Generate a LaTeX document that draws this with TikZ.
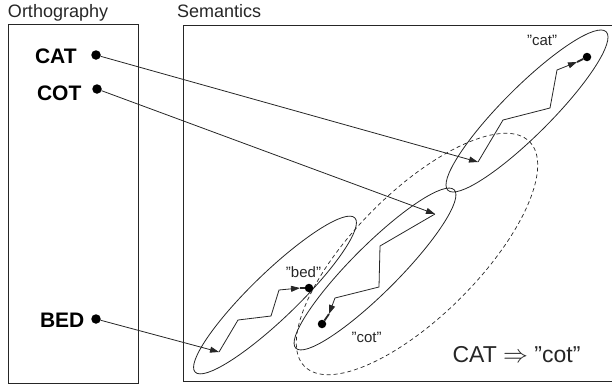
\documentclass[tikz,border=0pt]{standalone}
\usepackage{fontspec}
\setmainfont{Liberation Sans}
\usetikzlibrary{arrows.meta}
\newcommand\dq{\symbol{34}}
\begin{document}
\begin{tikzpicture}[x=1pt,y=-1pt,
  every node/.style={inner sep=0pt, outer sep=0pt},
  ln/.style={line width=0.8pt, draw=black!85},
  arr/.style={ln, -{Triangle[length=9pt,width=6pt]}},
  stem/.style={line width=1.8pt, draw=black!85},
  indot/.style={circle, fill=black, minimum size=9.5pt},
  attdot/.style={circle, fill=black, minimum size=8.5pt},
  title/.style={anchor=base west, font=\fontsize{18}{18}\selectfont, text=black!85},
  word/.style={anchor=base west, font=\bfseries\fontsize{21}{21}\selectfont},
  mean/.style={anchor=base, font=\fontsize{15}{15}\selectfont, text=black!85},
  basin/.style={ln},
  wide/.style={line width=0.7pt, draw=black!85, dash pattern=on 4pt off 3pt}
]
\useasboundingbox (0,0) rectangle (612,388);

% boxes
\draw[ln] (8,24) rectangle (138,383);
\draw[ln] (614,25) -- (183,25) -- (183,381) -- (614,381);

% titles
\node[title] (ortho) at (8,17.5) {Orthography};
\node[title] (sem) at (177,17.5) {Semantics};

% orthographic inputs
\node[word] (catw) at (35,63) {CAT};
\node[word] (cotw) at (37,100) {COT};
\node[word] (bedw) at (40,327) {BED};
\node[indot] (catin) at (96,55) {};
\node[indot] (cotin) at (97,89) {};
\node[indot] (bedin) at (96,319) {};

% basins
\draw[basin, rotate around={45:(527,111)}] (527,111) ellipse (112 and 24);
\draw[basin, rotate around={44:(275,295)}] (275,295) ellipse (111 and 23);
\draw[basin, rotate around={45:(375,269)}] (375,269) ellipse (112 and 23.5);
\draw[wide, rotate around={45:(417,254)}] (417,254) ellipse (159 and 62);

% attractors
\node[attdot] (catatt) at (587,57) {};
\node[attdot] (cotatt) at (322,324) {};
\node[attdot] (bedatt) at (309,288) {};
\coordinate (catstart) at (478,162);
\coordinate (cotstart) at (435,214);
\coordinate (bedstart) at (219,352);
\coordinate (cattip) at (577,62);
\coordinate (cottip) at (329,314);
\coordinate (bedtip) at (300,288);

% mapping arrows
\draw[arr] (catin) -- (catstart);
\draw[arr] (cotin) -- (cotstart);
\draw[arr] (bedin) -- (bedstart);

% settling trajectories
\draw[arr] (catstart) -- (503,120) -- (550,108) -- (557,70) -- (cattip);
\draw[stem] (cattip) -- (catatt);
\draw[arr] (cotstart) -- (380,246) -- (379,287) -- (335,298) -- (cottip);
\draw[stem] (cottip) -- (cotatt);
\draw[arr] (bedstart) -- (238,320) -- (271,316) -- (279,290) -- (bedtip);
\draw[stem] (bedtip) -- (bedatt);

% labels
\node[mean] (catl) at (542,45) {\dq cat\dq};
\node[mean] (bedl) at (303.5,277) {\dq bed\dq};
\node[mean] (cotl) at (366.5,342) {\dq cot\dq};
\node[anchor=base, font=\fontsize{23}{23}\selectfont, text=black!85] (res) at (516.5,362) {CAT $\Rightarrow$ \dq cot\dq};
\end{tikzpicture}
\end{document}
